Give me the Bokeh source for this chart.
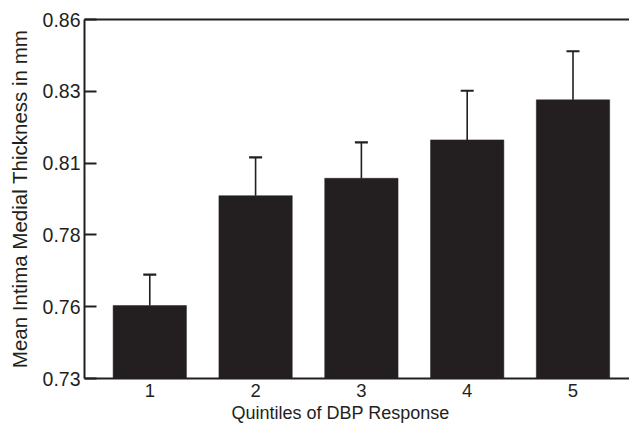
from bokeh.plotting import figure
from bokeh.models import (ColumnDataSource, Range1d, FixedTicker, LinearAxis,
                          Whisker, TeeHead, Title)
from bokeh.embed import file_html
from bokeh.resources import INLINE

# data
quintiles = [1, 2, 3, 4, 5]
means = [0.7564, 0.7962, 0.8025, 0.8164, 0.8309]
upper = [0.7676, 0.8101, 0.8155, 0.8342, 0.8485]
y_ticks = [0.73, 0.756, 0.782, 0.808, 0.834, 0.86]
y_tick_labels = ["0.73", "0.76", "0.78", "0.81", "0.83", "0.86"]
x_tick_labels = ["1", "2", "3", "4", "5"]

DARK = "#231f20"
FONT = "Liberation Sans"

src = ColumnDataSource(dict(x=quintiles, mean=means, upper=upper))

p = figure(width=629, height=425, output_backend="svg", toolbar_location=None,
           x_range=Range1d(0.383, 5.534), y_range=Range1d(0.73, 0.86),
           min_border_left=84, min_border_right=0, min_border_top=19,
           min_border_bottom=47, outline_line_color=None,
           background_fill_color="white", border_fill_color="white")
p.grid.visible = False

p.vbar(x="x", top="mean", bottom=0.73, width=0.693, source=src,
       fill_color=DARK, line_color=DARK, line_width=0.5)

w = Whisker(source=src, base="x", lower="mean", upper="upper",
            line_color=DARK, line_width=1.6,
            upper_head=TeeHead(size=13, line_color=DARK, line_width=2.2),
            lower_head=None)
p.add_layout(w)

# y axis
ya = p.yaxis[0]
ya.ticker = FixedTicker(ticks=y_ticks)
ya.major_label_overrides = {t: l for t, l in zip(y_ticks, y_tick_labels)}
ya.major_tick_in = 12
ya.major_tick_out = 0
ya.minor_tick_line_color = None
ya.axis_line_width = 2
ya.axis_line_color = DARK
ya.major_tick_line_width = 2
ya.major_tick_line_color = DARK
ya.major_label_text_font = FONT
ya.major_label_text_font_size = "19.5px"
ya.major_label_text_color = DARK
ya.major_label_standoff = 4
ya.axis_label = "Mean Intima Medial Thickness in mm"
ya.axis_label_text_font = FONT
ya.axis_label_text_font_size = "20.5px"
ya.axis_label_text_font_style = "normal"
ya.axis_label_text_color = DARK
ya.axis_label_standoff = 9

# x axis
xa = p.xaxis[0]
xa.ticker = FixedTicker(ticks=quintiles)
xa.major_label_overrides = {q: l for q, l in zip(quintiles, x_tick_labels)}
xa.major_tick_in = 0
xa.major_tick_out = 0
xa.minor_tick_line_color = None
xa.axis_line_width = 2
xa.axis_line_color = DARK
xa.major_label_text_font = FONT
xa.major_label_text_font_size = "18.5px"
xa.major_label_text_color = DARK
xa.major_label_standoff = 5

# top frame line
top = LinearAxis(ticker=FixedTicker(ticks=[]), major_tick_in=0, major_tick_out=0,
                 minor_tick_line_color=None, axis_line_width=2,
                 axis_line_color=DARK, major_label_text_font_size="0px")
p.add_layout(top, "above")

# x label
p.add_layout(Title(text="Quintiles of DBP Response", align="left", offset=147,
                   text_font=FONT, text_font_size="18px",
                   text_font_style="normal", text_color=DARK, standoff=2),
             "below")

open("out.html", "w").write(file_html(p, INLINE))
